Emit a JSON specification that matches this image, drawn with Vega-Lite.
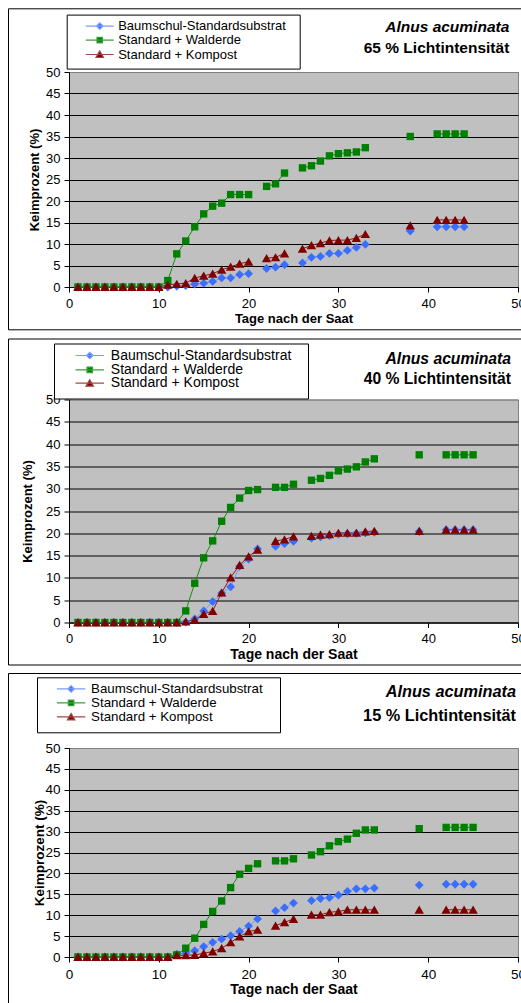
{
  "$schema": "https://vega.github.io/schema/vega-lite/v6.json",
  "background": "white",
  "padding": {"left": 7, "top": 7, "right": 0, "bottom": 0},
  "spacing": 6.5,
  "data": {"values": [
    {"p":"65","t":1,"g":1,"B":0,"W":0,"K":0},
    {"p":"65","t":2,"g":1,"B":0,"W":0,"K":0},
    {"p":"65","t":3,"g":1,"B":0,"W":0,"K":0},
    {"p":"65","t":4,"g":1,"B":0,"W":0,"K":0},
    {"p":"65","t":5,"g":1,"B":0,"W":0,"K":0},
    {"p":"65","t":6,"g":1,"B":0,"W":0,"K":0},
    {"p":"65","t":7,"g":1,"B":0,"W":0,"K":0},
    {"p":"65","t":8,"g":1,"B":0,"W":0,"K":0},
    {"p":"65","t":9,"g":1,"B":0,"W":0,"K":0},
    {"p":"65","t":10,"g":1,"B":0,"W":0,"K":0},
    {"p":"65","t":11,"g":1,"B":0,"W":1.5,"K":0.5},
    {"p":"65","t":12,"g":1,"B":0.2,"W":7.7,"K":0.7},
    {"p":"65","t":13,"g":1,"B":0.3,"W":10.7,"K":0.9},
    {"p":"65","t":14,"g":1,"B":0.7,"W":14.0,"K":2.1},
    {"p":"65","t":15,"g":1,"B":0.9,"W":17.0,"K":2.6},
    {"p":"65","t":16,"g":1,"B":1.3,"W":18.8,"K":3.1},
    {"p":"65","t":17,"g":1,"B":2.1,"W":19.5,"K":4.0},
    {"p":"65","t":18,"g":1,"B":2.1,"W":21.5,"K":4.7},
    {"p":"65","t":19,"g":1,"B":2.9,"W":21.5,"K":5.4},
    {"p":"65","t":20,"g":1,"B":3.1,"W":21.5,"K":5.9},
    {"p":"65","t":22,"g":2,"B":4.3,"W":23.4,"K":6.7},
    {"p":"65","t":23,"g":2,"B":4.6,"W":24.0,"K":6.9},
    {"p":"65","t":24,"g":2,"B":5.2,"W":26.5,"K":7.8},
    {"p":"65","t":26,"g":3,"B":5.6,"W":27.7,"K":8.9},
    {"p":"65","t":27,"g":3,"B":6.9,"W":28.2,"K":9.7},
    {"p":"65","t":28,"g":3,"B":7.1,"W":29.3,"K":10.2},
    {"p":"65","t":29,"g":3,"B":7.8,"W":30.5,"K":10.8},
    {"p":"65","t":30,"g":3,"B":7.8,"W":31.0,"K":10.9},
    {"p":"65","t":31,"g":3,"B":8.5,"W":31.2,"K":10.9},
    {"p":"65","t":32,"g":3,"B":9.2,"W":31.4,"K":11.4},
    {"p":"65","t":33,"g":3,"B":9.9,"W":32.4,"K":12.3},
    {"p":"65","t":38,"g":4,"B":13.0,"W":35.0,"K":14.3},
    {"p":"65","t":41,"g":5,"B":14.0,"W":35.6,"K":15.6},
    {"p":"65","t":42,"g":5,"B":14.0,"W":35.6,"K":15.6},
    {"p":"65","t":43,"g":5,"B":14.0,"W":35.6,"K":15.6},
    {"p":"65","t":44,"g":5,"B":14.0,"W":35.6,"K":15.6},
    {"p":"40","t":1,"g":1,"B":0,"W":0,"K":0},
    {"p":"40","t":2,"g":1,"B":0,"W":0,"K":0},
    {"p":"40","t":3,"g":1,"B":0,"W":0,"K":0},
    {"p":"40","t":4,"g":1,"B":0,"W":0,"K":0},
    {"p":"40","t":5,"g":1,"B":0,"W":0,"K":0},
    {"p":"40","t":6,"g":1,"B":0,"W":0,"K":0},
    {"p":"40","t":7,"g":1,"B":0,"W":0,"K":0},
    {"p":"40","t":8,"g":1,"B":0,"W":0,"K":0},
    {"p":"40","t":9,"g":1,"B":0,"W":0,"K":0},
    {"p":"40","t":10,"g":1,"B":0,"W":0,"K":0},
    {"p":"40","t":11,"g":1,"B":0,"W":0,"K":0},
    {"p":"40","t":12,"g":1,"B":0,"W":0,"K":0},
    {"p":"40","t":13,"g":1,"B":0.1,"W":2.6,"K":0.2},
    {"p":"40","t":14,"g":1,"B":0.8,"W":8.8,"K":0.6},
    {"p":"40","t":15,"g":1,"B":2.6,"W":14.5,"K":1.9},
    {"p":"40","t":16,"g":1,"B":4.7,"W":18.3,"K":2.6},
    {"p":"40","t":17,"g":1,"B":6.6,"W":22.7,"K":6.7},
    {"p":"40","t":18,"g":1,"B":8.0,"W":25.8,"K":10.1},
    {"p":"40","t":19,"g":1,"B":12.6,"W":27.9,"K":12.9},
    {"p":"40","t":20,"g":1,"B":14.2,"W":29.6,"K":14.8},
    {"p":"40","t":21,"g":1,"B":16.5,"W":29.8,"K":16.3},
    {"p":"40","t":23,"g":2,"B":17.1,"W":30.3,"K":18.3},
    {"p":"40","t":24,"g":2,"B":17.7,"W":30.3,"K":18.6},
    {"p":"40","t":25,"g":2,"B":18.2,"W":31.0,"K":19.3},
    {"p":"40","t":27,"g":3,"B":18.9,"W":31.9,"K":19.4},
    {"p":"40","t":28,"g":3,"B":19.2,"W":32.3,"K":19.7},
    {"p":"40","t":29,"g":3,"B":19.5,"W":33.0,"K":19.8},
    {"p":"40","t":30,"g":3,"B":19.8,"W":34.0,"K":20.1},
    {"p":"40","t":31,"g":3,"B":19.9,"W":34.4,"K":20.1},
    {"p":"40","t":32,"g":3,"B":20.0,"W":34.9,"K":20.1},
    {"p":"40","t":33,"g":3,"B":20.1,"W":36.0,"K":20.4},
    {"p":"40","t":34,"g":3,"B":20.2,"W":36.7,"K":20.5},
    {"p":"40","t":39,"g":4,"B":20.4,"W":37.6,"K":20.5},
    {"p":"40","t":42,"g":5,"B":20.8,"W":37.6,"K":20.8},
    {"p":"40","t":43,"g":5,"B":20.8,"W":37.6,"K":20.8},
    {"p":"40","t":44,"g":5,"B":20.8,"W":37.6,"K":20.8},
    {"p":"40","t":45,"g":5,"B":20.8,"W":37.6,"K":20.8},
    {"p":"15","t":1,"g":1,"B":0,"W":0,"K":0},
    {"p":"15","t":2,"g":1,"B":0,"W":0,"K":0},
    {"p":"15","t":3,"g":1,"B":0,"W":0,"K":0},
    {"p":"15","t":4,"g":1,"B":0,"W":0,"K":0},
    {"p":"15","t":5,"g":1,"B":0,"W":0,"K":0},
    {"p":"15","t":6,"g":1,"B":0,"W":0,"K":0},
    {"p":"15","t":7,"g":1,"B":0,"W":0,"K":0},
    {"p":"15","t":8,"g":1,"B":0,"W":0,"K":0},
    {"p":"15","t":9,"g":1,"B":0,"W":0,"K":0},
    {"p":"15","t":10,"g":1,"B":0,"W":0,"K":0},
    {"p":"15","t":11,"g":1,"B":0,"W":0,"K":0},
    {"p":"15","t":12,"g":1,"B":0.7,"W":0.5,"K":0.4},
    {"p":"15","t":13,"g":1,"B":0.9,"W":2.1,"K":0.4},
    {"p":"15","t":14,"g":1,"B":1.5,"W":4.5,"K":0.5},
    {"p":"15","t":15,"g":1,"B":2.5,"W":7.8,"K":0.9},
    {"p":"15","t":16,"g":1,"B":3.5,"W":10.9,"K":1.3},
    {"p":"15","t":17,"g":1,"B":4.3,"W":13.4,"K":2.1},
    {"p":"15","t":18,"g":1,"B":5.1,"W":16.6,"K":3.5},
    {"p":"15","t":19,"g":1,"B":6.1,"W":19.8,"K":4.9},
    {"p":"15","t":20,"g":1,"B":7.4,"W":21.2,"K":6.1},
    {"p":"15","t":21,"g":1,"B":9.1,"W":22.3,"K":6.5},
    {"p":"15","t":23,"g":2,"B":11.0,"W":23.0,"K":7.5},
    {"p":"15","t":24,"g":2,"B":11.8,"W":23.0,"K":8.3},
    {"p":"15","t":25,"g":2,"B":12.9,"W":23.5,"K":9.1},
    {"p":"15","t":27,"g":3,"B":13.5,"W":24.4,"K":10.1},
    {"p":"15","t":28,"g":3,"B":14.0,"W":25.2,"K":10.1},
    {"p":"15","t":29,"g":3,"B":14.2,"W":26.6,"K":10.7},
    {"p":"15","t":30,"g":3,"B":14.8,"W":27.6,"K":10.9},
    {"p":"15","t":31,"g":3,"B":15.7,"W":28.2,"K":11.3},
    {"p":"15","t":32,"g":3,"B":16.3,"W":29.6,"K":11.3},
    {"p":"15","t":33,"g":3,"B":16.3,"W":30.4,"K":11.3},
    {"p":"15","t":34,"g":3,"B":16.5,"W":30.4,"K":11.3},
    {"p":"15","t":39,"g":4,"B":17.2,"W":30.7,"K":11.3},
    {"p":"15","t":42,"g":5,"B":17.4,"W":31.0,"K":11.3},
    {"p":"15","t":43,"g":5,"B":17.4,"W":31.0,"K":11.3},
    {"p":"15","t":44,"g":5,"B":17.4,"W":31.0,"K":11.3},
    {"p":"15","t":45,"g":5,"B":17.4,"W":31.0,"K":11.3}
  ]},
  "resolve": {
    "scale": {"x": "independent", "y": "independent", "color": "independent", "shape": "independent"},
    "legend": {"color": "independent", "shape": "independent"}
  },
  "vconcat": [
    {
      "width": 449, "height": 215,
      "title": {"text": "Alnus acuminata", "subtitle": "65 % Lichtintensität", "dx": -8.7, "offset": -48.7, "subtitlePadding": 5.5, "fontSize": 15.5, "subtitleFontSize": 15.5},
      "transform": [{"filter": "datum.p === '65'"}, {"fold": ["B", "W", "K"], "as": ["serie", "wert"]}],
      "encoding": {
        "x": {"field": "t", "type": "quantitative", "scale": {"domain": [0, 50], "nice": false, "zero": false},
              "axis": {"title": "Tage nach der Saat", "values": [0, 10, 20, 30, 40, 50], "grid": false}},
        "y": {"field": "wert", "type": "quantitative", "scale": {"domain": [0, 50], "nice": false},
              "axis": {"title": "Keimprozent (%)", "values": [0, 5, 10, 15, 20, 25, 30, 35, 40, 45, 50], "grid": true, "titlePadding": 4.5,
                       "gridColor": {"condition": {"test": "datum.value === 50", "value": "#808080"}, "value": "black"}}}
      },
      "layer": [
        {"mark": {"type": "line", "strokeWidth": 1},
         "encoding": {
           "color": {"field": "serie", "type": "nominal", "scale": {"domain": ["B", "W", "K"], "range": ["#7896FF", "#109010", "#8B1A1A"]}, "legend": null},
           "detail": {"field": "g", "type": "nominal"}}},
        {"mark": {"type": "point", "filled": true, "opacity": 1, "strokeWidth": 0, "size": 64},
         "encoding": {
           "color": {"field": "serie", "type": "nominal", "scale": {"domain": ["B", "W", "K"], "range": ["#3A6EFF", "#008000", "#800000"]}, "legend": null},
           "shape": {"field": "serie", "type": "nominal", "scale": {"domain": ["B", "W", "K"], "range": ["M0,-1.1L1.1,0L0,1.1L-1.1,0Z", "M-0.92,-0.92H0.92V0.92H-0.92Z", "M0,-1.05L1.18,1H-1.18Z"]}, "legend": null}}},
        {"transform": [{"filter": "false"}],
         "mark": {"type": "point", "filled": true, "fill": "transparent", "stroke": "transparent", "strokeWidth": 0, "opacity": 0, "size": 4},
         "encoding": {"shape": {"field": "serie", "type": "nominal", "scale": {"domain": ["R"], "range": ["M-1,-1M522,320"]},
           "legend": {"orient": "none", "legendX": -61, "legendY": -63.7, "padding": 0, "fillColor": "transparent", "strokeColor": "black", "title": null, "labelFontSize": 1, "symbolOffset": 0, "labelOffset": 0, "symbolSize": 4, "symbolStrokeWidth": 0,
                      "labelExpr": "''"}}}},
        {"transform": [{"filter": "false"}],
         "mark": {"type": "point", "filled": true, "fill": "#3A6EFF", "stroke": "#7B9CFF", "strokeWidth": 1.2, "opacity": 1, "size": 100},
         "encoding": {"shape": {"field": "serie", "type": "nominal", "scale": {"domain": ["B"], "range": ["M38.4,0M0,7M-2.8,0H2.8M0,-0.65L0.65,0L0,0.65L-0.65,0Z"]},
           "legend": {"orient": "none", "legendX": -2.3, "legendY": -57.4, "padding": 5, "title": null, "labelFontSize": 13, "symbolOffset": 21.55, "labelOffset": 11.95, "symbolSize": 100, "symbolStrokeWidth": 1.2,
                      "labelExpr": "'Baumschul-Standardsubstrat'"}}}},
        {"transform": [{"filter": "false"}],
         "mark": {"type": "point", "filled": true, "fill": "#008000", "stroke": "#3CA03C", "strokeWidth": 1.2, "opacity": 1, "size": 100},
         "encoding": {"shape": {"field": "serie", "type": "nominal", "scale": {"domain": ["W"], "range": ["M-2.8,0H2.8M-0.55,-0.55H0.55V0.55H-0.55Z"]},
           "legend": {"orient": "none", "legendX": 2.7, "legendY": -38.4, "padding": 0, "fillColor": "transparent", "strokeColor": "transparent", "title": null, "labelFontSize": 13, "symbolOffset": 21.55, "labelOffset": 11.95, "symbolSize": 100, "symbolStrokeWidth": 1.2,
                      "labelExpr": "'Standard + Walderde'"}}}},
        {"transform": [{"filter": "false"}],
         "mark": {"type": "point", "filled": true, "fill": "#800000", "stroke": "#A04848", "strokeWidth": 1.2, "opacity": 1, "size": 100},
         "encoding": {"shape": {"field": "serie", "type": "nominal", "scale": {"domain": ["K"], "range": ["M-2.8,0H2.8M0,-0.7L0.75,0.6H-0.75Z"]},
           "legend": {"orient": "none", "legendX": 2.7, "legendY": -24, "padding": 0, "fillColor": "transparent", "strokeColor": "transparent", "title": null, "labelFontSize": 13, "symbolOffset": 21.55, "labelOffset": 11.95, "symbolSize": 100, "symbolStrokeWidth": 1.2,
                      "labelExpr": "'Standard + Kompost'"}}}}
      ],
      "resolve": {"scale": {"color": "independent", "shape": "independent"}, "legend": {"shape": "independent"}}
    },
    {
      "width": 449, "height": 223,
      "title": {"text": "Alnus acuminata", "subtitle": "40 % Lichtintensität", "dx": -7, "offset": -49.5, "subtitlePadding": 4.5, "fontSize": 15.7, "subtitleFontSize": 15.7},
      "transform": [{"filter": "datum.p === '40'"}, {"fold": ["B", "W", "K"], "as": ["serie", "wert"]}],
      "encoding": {
        "x": {"field": "t", "type": "quantitative", "scale": {"domain": [0, 50], "nice": false, "zero": false},
              "axis": {"title": "Tage nach der Saat", "values": [0, 10, 20, 30, 40, 50], "grid": false, "titleFontSize": 14}},
        "y": {"field": "wert", "type": "quantitative", "scale": {"domain": [0, 50], "nice": false},
              "axis": {"title": "Keimprozent (%)", "values": [0, 5, 10, 15, 20, 25, 30, 35, 40, 45, 50], "grid": true, "titleFontSize": 13, "titlePadding": 11.5,
                       "gridColor": {"condition": {"test": "datum.value === 50", "value": "#808080"}, "value": "black"}}}
      },
      "layer": [
        {"mark": {"type": "line", "strokeWidth": 1},
         "encoding": {
           "color": {"field": "serie", "type": "nominal", "scale": {"domain": ["B", "W", "K"], "range": ["#7896FF", "#109010", "#8B1A1A"]}, "legend": null},
           "detail": {"field": "g", "type": "nominal"}}},
        {"mark": {"type": "point", "filled": true, "opacity": 1, "strokeWidth": 0, "size": 64},
         "encoding": {
           "color": {"field": "serie", "type": "nominal", "scale": {"domain": ["B", "W", "K"], "range": ["#3A6EFF", "#008000", "#800000"]}, "legend": null},
           "shape": {"field": "serie", "type": "nominal", "scale": {"domain": ["B", "W", "K"], "range": ["M0,-1.1L1.1,0L0,1.1L-1.1,0Z", "M-0.92,-0.92H0.92V0.92H-0.92Z", "M0,-1.05L1.18,1H-1.18Z"]}, "legend": null}}},
        {"transform": [{"filter": "false"}],
         "mark": {"type": "point", "filled": true, "fill": "transparent", "stroke": "transparent", "strokeWidth": 0, "opacity": 0, "size": 4},
         "encoding": {"shape": {"field": "serie", "type": "nominal", "scale": {"domain": ["R"], "range": ["M-1,-1M522,325"]},
           "legend": {"orient": "none", "legendX": -61, "legendY": -61, "padding": 0, "fillColor": "transparent", "strokeColor": "black", "title": null, "labelFontSize": 1, "symbolOffset": 0, "labelOffset": 0, "symbolSize": 4, "symbolStrokeWidth": 0,
                      "labelExpr": "''"}}}},
        {"transform": [{"filter": "false"}],
         "mark": {"type": "point", "filled": true, "fill": "#3A6EFF", "stroke": "#7B9CFF", "strokeWidth": 1.2, "opacity": 1, "size": 100},
         "encoding": {"shape": {"field": "serie", "type": "nominal", "scale": {"domain": ["B"], "range": ["M42.1,0M0,7M-2.84,0H2.84M0,-0.65L0.65,0L0,0.65L-0.65,0Z"]},
           "legend": {"orient": "none", "legendX": -15, "legendY": -56, "padding": 5, "title": null, "labelFontSize": 14, "symbolOffset": 23.75, "labelOffset": 14.05, "symbolSize": 100, "symbolStrokeWidth": 1.2,
                      "labelExpr": "'Baumschul-Standardsubstrat'"}}}},
        {"transform": [{"filter": "false"}],
         "mark": {"type": "point", "filled": true, "fill": "#008000", "stroke": "#3CA03C", "strokeWidth": 1.2, "opacity": 1, "size": 100},
         "encoding": {"shape": {"field": "serie", "type": "nominal", "scale": {"domain": ["W"], "range": ["M-2.84,0H2.84M-0.55,-0.55H0.55V0.55H-0.55Z"]},
           "legend": {"orient": "none", "legendX": -10, "legendY": -36.7, "padding": 0, "fillColor": "transparent", "strokeColor": "transparent", "title": null, "labelFontSize": 14, "symbolOffset": 23.75, "labelOffset": 14.05, "symbolSize": 100, "symbolStrokeWidth": 1.2,
                      "labelExpr": "'Standard + Walderde'"}}}},
        {"transform": [{"filter": "false"}],
         "mark": {"type": "point", "filled": true, "fill": "#800000", "stroke": "#A04848", "strokeWidth": 1.2, "opacity": 1, "size": 100},
         "encoding": {"shape": {"field": "serie", "type": "nominal", "scale": {"domain": ["K"], "range": ["M-2.84,0H2.84M0,-0.7L0.75,0.6H-0.75Z"]},
           "legend": {"orient": "none", "legendX": -10, "legendY": -23.3, "padding": 0, "fillColor": "transparent", "strokeColor": "transparent", "title": null, "labelFontSize": 14, "symbolOffset": 23.75, "labelOffset": 14.05, "symbolSize": 100, "symbolStrokeWidth": 1.2,
                      "labelExpr": "'Standard + Kompost'"}}}}
      ],
      "resolve": {"scale": {"color": "independent", "shape": "independent"}, "legend": {"shape": "independent"}}
    },
    {
      "width": 449, "height": 209,
      "title": {"text": "Alnus acuminata", "subtitle": "15 % Lichtintensität", "dx": -2, "offset": -51.5, "subtitlePadding": 7, "fontSize": 16.3, "subtitleFontSize": 16.3},
      "transform": [{"filter": "datum.p === '15'"}, {"fold": ["B", "W", "K"], "as": ["serie", "wert"]}],
      "encoding": {
        "x": {"field": "t", "type": "quantitative", "scale": {"domain": [0, 50], "nice": false, "zero": false},
              "axis": {"title": "Tage nach der Saat", "values": [0, 10, 20, 30, 40, 50], "grid": false, "titleFontSize": 14, "labelFontSize": 13.5}},
        "y": {"field": "wert", "type": "quantitative", "scale": {"domain": [0, 50], "nice": false},
              "axis": {"title": "Keimprozent (%)", "values": [0, 5, 10, 15, 20, 25, 30, 35, 40, 45, 50], "grid": true, "titleFontSize": 13.5, "labelFontSize": 13.5, "titlePadding": -1.5,
                       "gridColor": {"condition": {"test": "datum.value === 50", "value": "#808080"}, "value": "black"}}}
      },
      "layer": [
        {"mark": {"type": "line", "strokeWidth": 1},
         "encoding": {
           "color": {"field": "serie", "type": "nominal", "scale": {"domain": ["B", "W", "K"], "range": ["#7896FF", "#109010", "#8B1A1A"]}, "legend": null},
           "detail": {"field": "g", "type": "nominal"}}},
        {"mark": {"type": "point", "filled": true, "opacity": 1, "strokeWidth": 0, "size": 64},
         "encoding": {
           "color": {"field": "serie", "type": "nominal", "scale": {"domain": ["B", "W", "K"], "range": ["#3A6EFF", "#008000", "#800000"]}, "legend": null},
           "shape": {"field": "serie", "type": "nominal", "scale": {"domain": ["B", "W", "K"], "range": ["M0,-1.1L1.1,0L0,1.1L-1.1,0Z", "M-0.92,-0.92H0.92V0.92H-0.92Z", "M0,-1.05L1.18,1H-1.18Z"]}, "legend": null}}},
        {"transform": [{"filter": "false"}],
         "mark": {"type": "point", "filled": true, "fill": "transparent", "stroke": "transparent", "strokeWidth": 0, "opacity": 0, "size": 4},
         "encoding": {"shape": {"field": "serie", "type": "nominal", "scale": {"domain": ["R"], "range": ["M-1,-1M522,339"]},
           "legend": {"orient": "none", "legendX": -61, "legendY": -75, "padding": 0, "fillColor": "transparent", "strokeColor": "black", "title": null, "labelFontSize": 1, "symbolOffset": 0, "labelOffset": 0, "symbolSize": 4, "symbolStrokeWidth": 0,
                      "labelExpr": "''"}}}},
        {"transform": [{"filter": "false"}],
         "mark": {"type": "point", "filled": true, "fill": "#3A6EFF", "stroke": "#7B9CFF", "strokeWidth": 1.2, "opacity": 1, "size": 100},
         "encoding": {"shape": {"field": "serie", "type": "nominal", "scale": {"domain": ["B"], "range": ["M40.2,0M0,7M-2.84,0H2.84M0,-0.65L0.65,0L0,0.65L-0.65,0Z"]},
           "legend": {"orient": "none", "legendX": -32, "legendY": -70.7, "padding": 5, "title": null, "labelFontSize": 13.3, "symbolOffset": 22.45, "labelOffset": 13.35, "symbolSize": 100, "symbolStrokeWidth": 1.2,
                      "labelExpr": "'Baumschul-Standardsubstrat'"}}}},
        {"transform": [{"filter": "false"}],
         "mark": {"type": "point", "filled": true, "fill": "#008000", "stroke": "#3CA03C", "strokeWidth": 1.2, "opacity": 1, "size": 100},
         "encoding": {"shape": {"field": "serie", "type": "nominal", "scale": {"domain": ["W"], "range": ["M-2.84,0H2.84M-0.55,-0.55H0.55V0.55H-0.55Z"]},
           "legend": {"orient": "none", "legendX": -27, "legendY": -51.7, "padding": 0, "fillColor": "transparent", "strokeColor": "transparent", "title": null, "labelFontSize": 13.3, "symbolOffset": 22.45, "labelOffset": 13.35, "symbolSize": 100, "symbolStrokeWidth": 1.2,
                      "labelExpr": "'Standard + Walderde'"}}}},
        {"transform": [{"filter": "false"}],
         "mark": {"type": "point", "filled": true, "fill": "#800000", "stroke": "#A04848", "strokeWidth": 1.2, "opacity": 1, "size": 100},
         "encoding": {"shape": {"field": "serie", "type": "nominal", "scale": {"domain": ["K"], "range": ["M-2.84,0H2.84M0,-0.7L0.75,0.6H-0.75Z"]},
           "legend": {"orient": "none", "legendX": -27, "legendY": -37.7, "padding": 0, "fillColor": "transparent", "strokeColor": "transparent", "title": null, "labelFontSize": 13.3, "symbolOffset": 22.45, "labelOffset": 13.35, "symbolSize": 100, "symbolStrokeWidth": 1.2,
                      "labelExpr": "'Standard + Kompost'"}}}}
      ],
      "resolve": {"scale": {"color": "independent", "shape": "independent"}, "legend": {"shape": "independent"}}
    }
  ],
  "config": {
    "font": "Liberation Sans",
    "view": {"fill": "#C0C0C0", "stroke": "#808080", "strokeWidth": 1},
    "axis": {"labelFont": "Liberation Sans", "labelFontSize": 13, "labelColor": "black", "titleFont": "Liberation Sans", "titleFontSize": 13, "titleFontWeight": "bold", "titleColor": "black",
             "domainColor": "black", "domainWidth": 1, "tickColor": "black", "tickSize": 5, "tickWidth": 1, "gridWidth": 1, "gridOpacity": 1, "labelPadding": 4},
    "axisX": {"labelPadding": 5, "titlePadding": 2, "labelFlush": false},
    "axisY": {"titlePadding": 5},
    "title": {"font": "Liberation Sans", "fontWeight": "bold", "fontStyle": "italic", "color": "black", "anchor": "end", "frame": "group",
              "subtitleFont": "Liberation Sans", "subtitleFontWeight": "bold", "subtitleColor": "black"},
    "legend": {"labelFont": "Liberation Sans", "labelColor": "black", "labelLimit": 400, "strokeColor": "black", "fillColor": "white", "padding": 4, "direction": "vertical", "labelBaseline": "middle"}
  }
}
